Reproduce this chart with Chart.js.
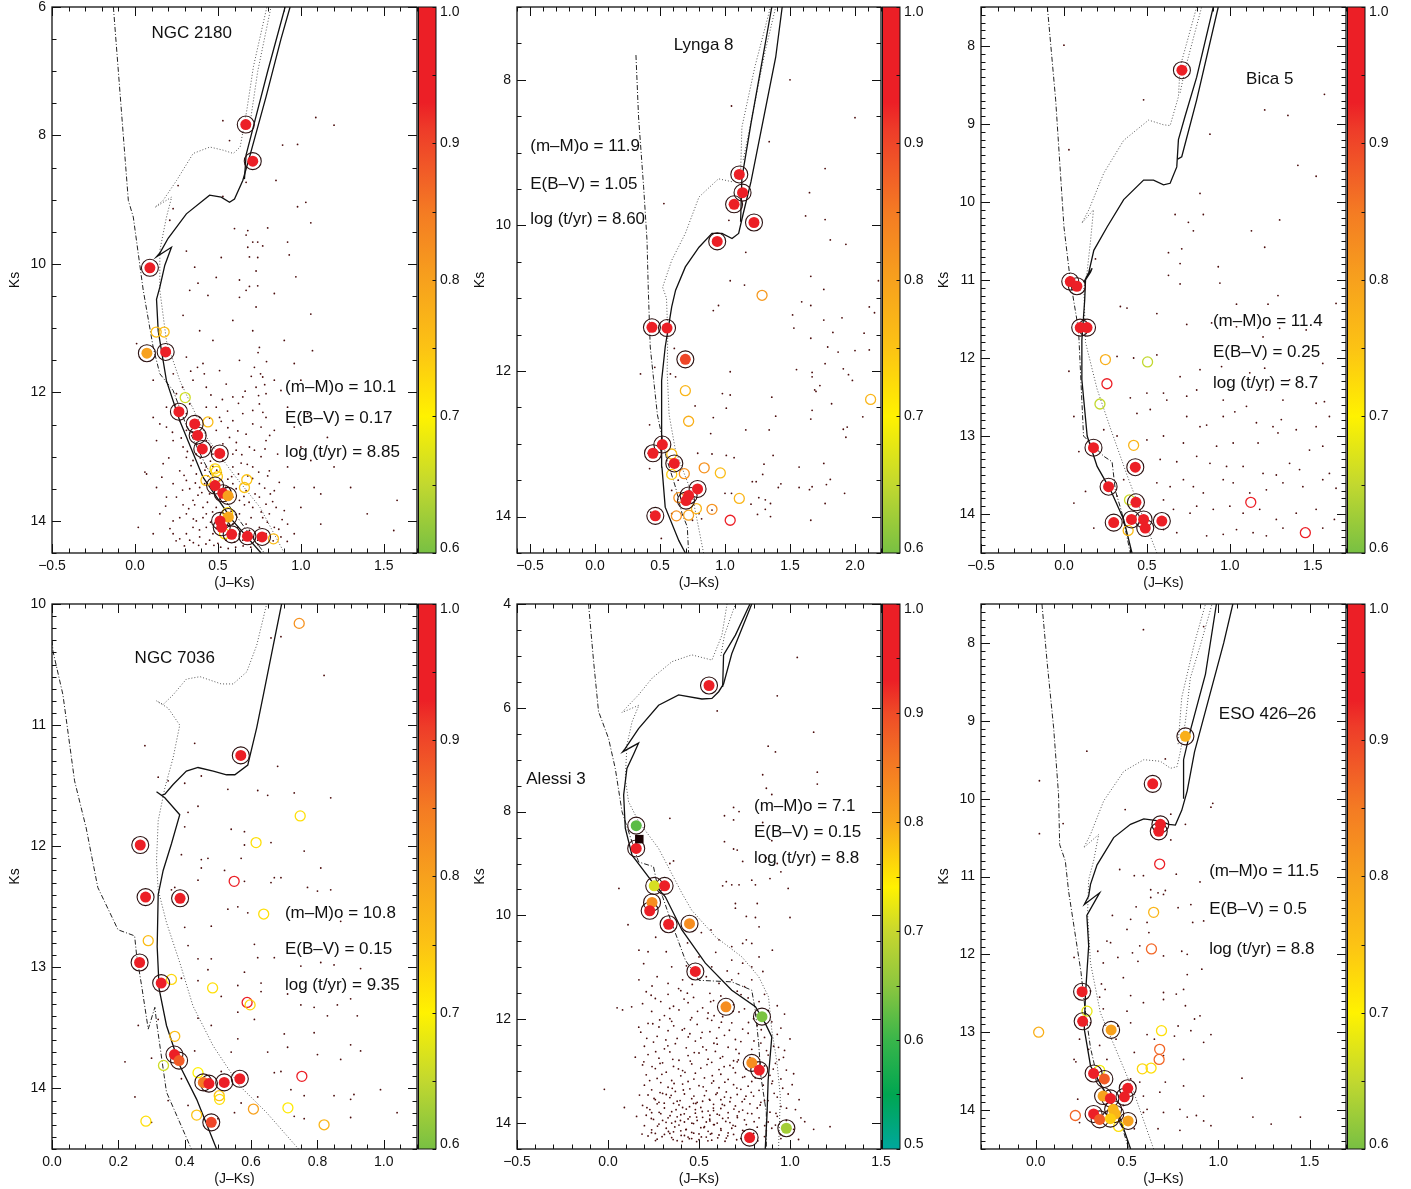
<!DOCTYPE html>
<html>
<head>
<meta charset="utf-8">
<title>Cluster CMDs</title>
<script src="https://cdn.jsdelivr.net/npm/chart.js@4.4.1/dist/chart.umd.min.js"></script>
<style>
  body { margin: 0; background: #fff; width: 1411px; height: 1189px; overflow: hidden; position: relative; }
  canvas { position: absolute; }
</style>
</head>
<body>
<script>
// =============================
// Colour bars (membership probability)
// =============================

const cbStopsA = [[0.60, '#78c043'], [0.65, '#c2d82f'], [0.70, '#fff200'], [0.75, '#fcc314'], [0.80, '#f7a11d'],
  [0.85, '#f47b23'], [0.88, '#f15b27'], [0.91, '#ee3c29'], [0.93, '#ec1f26'], [1.00, '#ec1f26']];
const cbStopsB = [[0.50, '#00a79d'], [0.55, '#00a651'], [0.60, '#39b54a'], [0.65, '#8cc63f'], [0.70, '#c8d72e'],
  [0.74, '#fff200'], [0.80, '#f9a61b'], [0.86, '#f37324'], [0.90, '#ef4b27'], [0.93, '#ec1f26'], [1.00, '#ec1f26']];

// =============================
// NGC 2180
// =============================

const ngc2180Members = [[0.668, 7.83, 1], [0.71, 8.40, 1], [0.09, 10.06, 1], [0.072, 11.39, 0.8], [0.185, 11.37, 1],
  [0.265, 12.30, 1], [0.36, 12.49, 1], [0.378, 12.67, 0.97], [0.406, 12.88, 1], [0.511, 12.95, 1], [0.483, 13.45, 1],
  [0.529, 13.57, 1], [0.561, 13.61, 0.8], [0.563, 13.94, 0.79], [0.513, 14.0, 1], [0.523, 14.1, 1], [0.583, 14.21, 1],
  [0.678, 14.24, 1], [0.766, 14.25, 1]];
const ngc2180Open = [[0.128, 11.06, 0.76], [0.176, 11.06, 0.76], [0.303, 12.08, 0.66], [0.44, 12.46, 0.76],
  [0.483, 13.19, 0.73], [0.49, 13.23, 0.73], [0.497, 13.31, 0.75], [0.428, 13.37, 0.75], [0.674, 13.36, 0.75],
  [0.66, 13.48, 0.75], [0.559, 13.87, 0.72], [0.54, 14.2, 0.72], [0.835, 14.28, 0.76]];
const ngc2180Iso = [[0.76, 14.5], [0.59, 14.0], [0.41, 13.32], [0.27, 12.44], [0.19, 11.82], [0.14, 11.04], [0.13, 10.55],
  [0.15, 10.36], [0.18, 10.02], [0.22, 9.74], [0.13, 9.89], [0.15, 9.83], [0.20, 9.6], [0.31, 9.22], [0.45, 8.93],
  [0.52, 8.96], [0.57, 9.04], [0.60, 8.99], [0.65, 8.70], [0.69, 8.34], [0.79, 7.4], [0.88, 6.5], [0.935, 6.0]];
const ngc2180Iso2 = [[0.66, 8.68], [0.67, 8.3], [0.72, 7.8], [0.80, 7.0], [0.905, 6.0]];
const ngc2180Bin = [[0.90, 14.5], [0.754, 13.79], [0.593, 13.27], [0.432, 12.7], [0.271, 11.82], [0.19, 11.2], [0.15, 10.41],
  [0.15, 9.79], [0.19, 9.27], [0.221, 8.96], [0.12, 9.12], [0.17, 9.01], [0.251, 8.70], [0.351, 8.28], [0.452, 8.18],
  [0.533, 8.23], [0.593, 8.28], [0.634, 8.18], [0.674, 7.61], [0.714, 6.93], [0.795, 6.0]];
const ngc2180Bin2 = [[0.70, 7.7], [0.74, 7.0], [0.82, 6.0]];
const ngc2180Zams = [[-0.13, 6.0], [-0.04, 9.01], [-0.01, 9.27], [0.05, 10.41], [0.11, 11.3], [0.15, 11.71], [0.23, 11.97],
  [0.30, 12.45], [0.42, 13.1], [0.55, 13.7], [0.66, 14.1], [0.78, 14.5]];
const ngc2180Field = [[0.53, 7.77], [0.57, 8.08], [1.09, 7.72], [1.2, 7.84], [0.89, 8.15], [0.98, 8.14], [0.85, 8.7],
  [0.67, 8.73], [0.26, 8.78], [0.53, 8.95], [1.03, 9.04], [0.98, 9.11], [0.23, 9.14], [0.21, 9.32], [0.6, 9.45],
  [0.68, 9.48], [0.8, 9.44], [1.06, 9.36], [0.67, 9.55], [0.71, 9.66], [0.74, 9.66], [0.77, 9.72], [0.68, 9.74],
  [0.92, 9.66], [0.31, 9.8], [0.52, 9.9], [0.74, 9.9], [0.93, 9.86], [0.69, 9.89], [0.36, 10.05], [0.73, 10.11],
  [0.49, 10.21], [0.63, 10.25], [0.97, 10.2], [0.38, 10.3], [0.69, 10.35], [0.74, 10.34], [0.33, 10.41], [0.44, 10.49],
  [0.67, 10.41], [0.63, 10.52], [0.73, 10.67], [0.84, 10.46], [1.06, 10.78], [0.01, 11.24], [1.07, 11.35], [0.29, 10.8],
  [0.39, 11.04], [0.47, 11.19], [0.59, 10.88], [0.71, 11.04], [0.75, 11.3], [0.9, 11.19], [0.31, 11.45], [0.41, 11.55],
  [0.51, 11.66], [0.63, 11.5], [0.72, 11.61], [0.77, 11.76], [0.73, 11.92], [0.79, 12.02], [0.75, 12.18], [0.71, 12.28],
  [0.79, 12.39], [0.76, 12.54], [0.84, 11.81], [0.88, 11.97], [0.35, 11.81], [0.43, 11.92], [0.55, 11.87], [0.59, 12.07],
  [0.49, 12.23], [0.33, 12.18], [0.39, 12.39], [0.11, 12.39], [0.15, 12.49], [0.59, 12.44], [0.67, 12.65], [0.57, 12.7],
  [0.31, 12.59], [0.29, 12.85], [0.43, 12.75], [0.59, 12.96], [0.69, 12.85], [0.79, 12.75], [0.86, 12.96], [1.0, 12.85],
  [0.35, 13.06], [0.43, 13.16], [0.59, 13.16], [0.71, 13.16], [0.81, 13.22], [0.92, 13.16], [0.17, 13.11], [0.07, 13.27],
  [0.31, 13.37], [0.39, 13.48], [0.59, 13.42], [0.75, 13.42], [0.84, 13.53], [0.96, 13.48], [1.12, 13.58], [1.58, 13.68],
  [0.25, 13.63], [0.35, 13.68], [0.41, 13.79], [0.63, 13.68], [0.71, 13.79], [0.79, 13.74], [0.9, 13.84], [1.0, 13.79],
  [1.12, 14.05], [1.56, 14.15], [0.15, 13.89], [0.23, 14.0], [0.31, 13.89], [0.37, 14.0], [0.43, 14.1], [0.47, 14.2],
  [0.39, 14.25], [0.31, 14.2], [0.27, 14.28], [0.59, 14.05], [0.67, 14.05], [0.75, 14.1], [0.84, 14.1], [0.92, 14.05],
  [0.63, 13.89], [0.88, 14.25], [0.96, 14.2], [0.02, 14.1], [0.06, 13.24], [0.13, 12.75], [0.19, 12.54], [0.27, 12.44],
  [0.39, 12.7], [0.49, 12.59], [0.53, 13.06], [0.51, 13.37], [0.45, 13.58], [0.49, 13.79], [0.57, 14.2], [0.71, 14.25],
  [0.79, 14.2], [0.81, 13.89], [0.75, 13.63], [0.67, 13.53], [0.59, 13.63], [0.55, 13.89], [0.37, 13.27], [0.27, 13.22],
  [0.23, 13.42], [0.31, 13.01], [0.23, 12.75], [0.37, 12.96], [0.47, 12.96], [0.65, 12.33], [0.71, 12.49], [0.84, 12.59],
  [0.96, 12.54], [1.04, 12.33], [0.92, 12.23], [1.0, 11.81], [0.96, 11.55], [1.16, 12.7], [1.2, 13.16], [1.3, 13.48],
  [1.4, 13.89], [1.08, 13.48], [1.06, 13.06], [0.13, 13.48], [0.19, 13.63], [0.11, 14.2], [0.23, 14.2], [0.35, 14.1],
  [0.43, 13.89], [0.53, 14.0], [0.63, 14.2], [0.39, 12.85], [0.31, 12.33], [0.25, 12.02], [0.19, 12.23], [0.11, 11.81],
  [0.65, 12.07], [0.51, 12.39], [0.43, 12.23], [0.33, 13.5], [0.36, 13.75], [0.41, 13.95], [0.45, 14.3], [0.5, 14.35],
  [0.55, 14.3], [0.6, 14.33], [0.65, 14.3], [0.4, 13.1], [0.44, 13.3], [0.47, 13.15], [0.52, 13.25], [0.56, 13.35],
  [0.61, 13.5], [0.66, 13.75], [0.7, 13.95], [0.74, 14.3], [0.46, 12.85], [0.53, 12.8], [0.61, 12.9], [0.38, 13.6],
  [0.42, 13.42], [0.29, 13.75], [0.33, 14.3], [0.27, 13.95], [0.58, 13.85], [0.62, 14.1], [0.69, 14.15], [0.77, 13.95],
  [0.83, 13.7], [0.87, 13.4], [0.8, 13.3], [0.76, 13.0], [0.72, 12.9], [0.68, 13.3], [0.64, 13.1], [0.56, 12.55],
  [0.62, 12.6], [0.52, 12.45], [0.45, 12.4], [0.345, 12.62], [0.372, 12.81], [0.418, 12.93], [0.455, 13.07],
  [0.493, 13.21], [0.338, 13.14], [0.296, 13.29], [0.364, 13.41], [0.403, 13.56], [0.437, 13.71], [0.468, 13.86],
  [0.512, 13.66], [0.547, 13.48], [0.583, 13.31], [0.624, 13.27], [0.657, 13.62], [0.688, 13.71], [0.724, 13.58],
  [0.761, 13.86], [0.798, 14.02], [0.833, 14.31], [0.867, 14.13], [0.742, 14.37], [0.698, 14.41], [0.652, 14.39],
  [0.607, 14.41], [0.562, 14.43], [0.517, 14.41], [0.476, 14.38], [0.428, 14.36], [0.384, 14.38], [0.352, 14.34],
  [0.298, 14.39], [0.248, 14.31], [0.211, 14.12], [0.185, 13.77], [0.162, 13.32], [0.204, 13.02], [0.226, 12.62],
  [0.279, 12.71], [0.316, 12.92], [0.287, 13.52], [0.324, 13.81], [0.352, 13.97], [0.389, 14.14], [0.456, 14.02],
  [0.491, 14.12], [0.452, 13.42], [0.422, 13.21], [0.394, 13.02], [0.611, 12.78], [0.644, 12.97], [0.677, 13.12],
  [0.709, 13.34], [0.746, 13.24], [0.782, 13.49], [0.816, 13.58], [0.851, 13.79], [0.887, 13.98], [0.918, 14.32],
  [0.784, 12.88], [0.812, 12.67], [0.771, 12.31], [0.745, 12.05], [0.782, 11.88], [0.757, 11.71], [0.793, 11.52],
  [0.742, 11.38], [0.701, 11.75], [0.664, 11.98], [0.624, 12.17], [0.558, 12.29], [0.527, 12.11], [0.458, 12.04],
  [0.418, 11.71], [0.377, 11.61], [0.336, 11.67], [0.287, 11.92], [0.244, 12.19], [0.231, 11.71]];

// =============================
// Lynga 8
// =============================

const lynga8Members = [[1.11, 9.30, 1], [1.135, 9.55, 1], [1.07, 9.71, 1], [1.223, 9.96, 1], [0.94, 10.22, 1],
  [0.438, 11.40, 1], [0.554, 11.41, 0.94], [0.695, 11.84, 0.9], [0.518, 13.01, 1], [0.446, 13.13, 1], [0.61, 13.27, 0.95],
  [0.789, 13.62, 1], [0.72, 13.71, 1], [0.70, 13.78, 0.96], [0.464, 13.99, 1]];
const lynga8Open = [[1.285, 10.96, 0.81], [0.695, 12.27, 0.77], [0.72, 12.69, 0.78], [2.12, 12.39, 0.77], [0.59, 13.14, 0.76],
  [0.84, 13.33, 0.82], [0.964, 13.40, 0.76], [0.687, 13.41, 0.82], [0.59, 13.42, 0.74], [1.11, 13.75, 0.77],
  [0.645, 13.74, 0.82], [0.78, 13.89, 0.77], [0.90, 13.90, 0.82], [0.626, 13.99, 0.82], [0.72, 13.98, 0.8], [1.04, 14.05, 0.93]];
const lynga8Iso = [[0.695, 14.5], [0.645, 14.33], [0.54, 13.87], [0.515, 13.32], [0.51, 12.59], [0.515, 12.13], [0.54, 11.67],
  [0.59, 11.12], [0.62, 10.89], [0.695, 10.57], [0.80, 10.30], [0.90, 10.11], [0.977, 10.11], [1.054, 10.18], [1.105, 10.11],
  [1.14, 9.84], [1.20, 9.4], [1.30, 8.5], [1.39, 7.69], [1.44, 7.0]];
const lynga8Iso2 = [[1.12, 9.95], [1.13, 9.35], [1.20, 8.6], [1.30, 7.6], [1.36, 7.0]];
const lynga8Bin = [[0.835, 14.5], [0.745, 13.68], [0.62, 13.1], [0.57, 12.6], [0.555, 12.0], [0.56, 11.5], [0.55, 11.0],
  [0.52, 10.85], [0.59, 10.48], [0.695, 10.11], [0.80, 9.61], [0.95, 9.36], [1.054, 9.40], [1.12, 9.29], [1.13, 8.65],
  [1.23, 7.82], [1.35, 7.0]];
const lynga8Bin2 = [[1.14, 9.1], [1.22, 8.4], [1.31, 7.6], [1.39, 7.0]];
const lynga8Zams = [[0.315, 7.66], [0.335, 8.51], [0.374, 9.47], [0.40, 10.2], [0.41, 10.89], [0.425, 11.67], [0.45, 12.1],
  [0.48, 12.6], [0.55, 13.2], [0.62, 13.6], [0.67, 13.96], [0.71, 14.14], [0.72, 14.5]];
const lynga8Field = [[1.50, 8.0], [1.05, 8.36], [2.0, 8.52], [1.34, 8.85], [1.77, 9.22], [1.65, 9.55], [0.53, 9.70], [1.62, 9.87],
  [1.77, 9.92], [1.03, 9.93], [1.81, 10.20], [1.93, 10.26], [1.16, 10.37], [1.66, 10.70], [1.04, 10.76], [1.15, 10.82],
  [1.76, 10.88], [2.18, 10.76], [1.59, 11.05], [1.66, 11.1], [2.11, 11.12], [2.15, 11.2], [0.91, 11.17], [0.95, 11.1],
  [1.52, 11.23], [1.90, 11.27], [1.76, 11.30], [1.53, 11.41], [1.83, 11.47], [2.07, 11.48], [1.66, 11.55], [1.79, 11.67],
  [1.87, 11.74], [2.00, 11.72], [2.11, 11.71], [0.61, 11.69], [1.77, 11.9], [1.55, 11.98], [1.91, 11.97], [1.04, 12.01],
  [1.67, 12.02], [1.67, 12.08], [1.95, 12.05], [0.35, 12.04], [0.46, 11.95], [0.58, 12.04], [0.62, 12.08], [1.73, 12.2],
  [1.70, 12.28], [0.98, 12.31], [1.04, 12.33], [0.77, 12.48], [1.01, 12.51], [1.67, 12.54], [2.06, 12.63], [1.39, 12.62],
  [0.91, 12.64], [1.66, 12.66], [0.42, 12.74], [1.16, 12.81], [1.34, 12.81], [1.94, 12.77], [1.91, 12.80], [0.89, 12.86],
  [0.90, 13.14], [1.01, 13.16], [1.07, 13.19], [1.37, 13.16], [1.30, 13.28], [1.76, 13.27], [1.29, 13.42], [1.21, 13.52],
  [1.24, 13.52], [1.43, 13.55], [1.57, 13.6], [1.65, 13.63], [1.81, 13.49], [1.78, 13.56], [1.92, 13.68], [1.41, 13.60],
  [1.0, 13.68], [1.05, 13.68], [1.20, 13.83], [1.31, 13.77], [1.26, 13.74], [1.35, 13.82], [1.77, 13.82], [1.31, 13.90],
  [1.25, 13.97], [1.35, 14.0], [1.66, 14.05], [0.43, 13.94], [0.41, 13.13], [0.42, 13.34], [0.59, 13.64], [0.79, 13.13],
  [0.51, 14.3], [0.64, 13.5], [0.80, 13.96], [0.90, 13.91], [0.59, 13.96], [0.75, 14.05], [0.82, 14.03], [1.36, 12.36],
  [1.57, 13.32], [1.67, 13.59], [1.93, 12.91], [1.69, 12.26], [1.82, 12.45], [1.98, 12.13]];

// =============================
// Bica 5
// =============================

const bica5Members = [[0.711, 8.31, 1], [0.038, 11.02, 1], [0.078, 11.08, 1], [0.098, 11.61, 1], [0.139, 11.61, 1],
  [0.178, 13.15, 1], [0.43, 13.40, 1], [0.269, 13.65, 1], [0.434, 13.85, 1], [0.30, 14.11, 1], [0.407, 14.07, 1],
  [0.48, 14.07, 1], [0.49, 14.18, 1], [0.59, 14.09, 1]];
const bica5Open = [[0.25, 12.02, 0.78], [0.504, 12.05, 0.65], [0.259, 12.33, 0.95], [0.217, 12.59, 0.65], [0.42, 13.12, 0.77],
  [0.395, 13.82, 0.66], [0.387, 14.21, 0.76], [1.126, 13.85, 0.95], [1.455, 14.24, 0.95]];
const bica5Iso = [[0.41, 14.5], [0.36, 14.07], [0.28, 13.69], [0.20, 13.39], [0.14, 13.0], [0.108, 12.28], [0.108, 11.77],
  [0.125, 11.26], [0.13, 11.0], [0.16, 10.9], [0.17, 10.85], [0.12, 11.03], [0.15, 10.9], [0.18, 10.62], [0.26, 10.32],
  [0.36, 9.97], [0.48, 9.72], [0.54, 9.72], [0.60, 9.78], [0.64, 9.76], [0.68, 9.55], [0.69, 9.2], [0.73, 8.9], [0.80, 8.40],
  [0.90, 7.5]];
const bica5Iso2 = [[0.685, 9.45], [0.71, 9.42], [0.80, 8.69], [0.93, 7.5]];
const bica5Bin = [[0.56, 14.5], [0.46, 13.95], [0.38, 13.5], [0.28, 12.9], [0.20, 12.4], [0.13, 11.8], [0.12, 11.1],
  [0.139, 10.91], [0.16, 10.5], [0.178, 10.10], [0.108, 10.27], [0.15, 10.1], [0.24, 9.63], [0.36, 9.21], [0.51, 8.95],
  [0.60, 9.01], [0.64, 9.02], [0.69, 8.65], [0.70, 8.27], [0.80, 7.5]];
const bica5Bin2 = [[0.70, 8.6], [0.73, 8.3], [0.83, 7.5]];
const bica5Zams = [[-0.10, 7.5], [-0.05, 8.69], [0.0, 10.32], [0.038, 11.0], [0.088, 11.64], [0.098, 12.1], [0.118, 13.0],
  [0.24, 13.26], [0.29, 13.33], [0.31, 13.7], [0.35, 13.99], [0.40, 14.5]];
const bica5Field = [[0.0, 7.99], [0.48, 8.69], [1.21, 8.82], [1.35, 8.89], [1.57, 8.62], [0.88, 9.13], [0.03, 9.33], [1.41, 9.53],
  [1.52, 9.67], [0.82, 9.89], [0.84, 10.16], [0.67, 10.16], [0.75, 10.26], [1.30, 10.23], [0.78, 10.37], [1.13, 10.37],
  [1.21, 10.58], [0.71, 10.60], [0.63, 10.65], [0.19, 10.73], [0.70, 10.79], [0.93, 10.83], [0.63, 10.94], [0.70, 11.05],
  [0.94, 11.04], [1.29, 11.2], [1.23, 11.31], [1.04, 11.31], [1.64, 11.3], [0.34, 11.34], [0.38, 11.36], [0.56, 11.43],
  [0.74, 11.57], [0.89, 11.55], [1.04, 11.6], [1.30, 11.62], [1.46, 11.64], [1.20, 11.73], [0.32, 11.98], [0.42, 12.0],
  [0.56, 11.96], [0.82, 12.15], [0.70, 12.24], [0.95, 12.11], [1.12, 12.19], [1.21, 12.13], [1.36, 12.28], [1.56, 12.07],
  [0.03, 12.17], [0.40, 12.51], [0.50, 12.45], [0.60, 12.45], [0.62, 12.54], [0.74, 12.49], [0.80, 12.41], [0.96, 12.54],
  [1.10, 12.62], [1.22, 12.41], [1.32, 12.54], [1.52, 12.58], [1.57, 12.56], [0.06, 12.75], [0.44, 12.71], [0.52, 12.66],
  [0.74, 12.75], [0.82, 12.88], [0.86, 12.86], [0.96, 12.75], [1.03, 12.69], [1.16, 12.83], [1.26, 12.88], [1.31, 12.79],
  [1.40, 12.92], [1.52, 12.88], [1.60, 12.75], [0.09, 13.2], [0.32, 13.0], [0.50, 13.05], [0.60, 13.0], [0.72, 13.09],
  [0.92, 13.13], [1.02, 13.09], [1.17, 13.09], [1.29, 12.96], [1.36, 13.35], [1.48, 13.18], [1.56, 13.13], [0.58, 13.3],
  [0.68, 13.33], [0.80, 13.26], [0.88, 13.35], [0.98, 13.39], [1.08, 13.39], [1.20, 13.48], [1.28, 13.5], [1.42, 13.43],
  [1.60, 13.48], [0.13, 13.71], [0.56, 13.6], [0.64, 13.65], [0.72, 13.56], [0.78, 13.65], [0.84, 13.73], [0.96, 13.56],
  [1.02, 13.6], [1.12, 13.73], [1.22, 13.69], [1.32, 13.6], [1.44, 13.65], [1.56, 13.56], [1.64, 13.67], [0.06, 13.86],
  [0.60, 13.82], [0.66, 13.94], [0.76, 13.99], [0.80, 13.9], [0.90, 13.94], [1.0, 13.9], [1.08, 13.99], [1.18, 13.94],
  [1.28, 14.07], [1.40, 13.99], [1.52, 13.94], [1.63, 14.07], [0.18, 14.18], [0.60, 14.2], [0.68, 14.24], [0.86, 14.28],
  [0.96, 14.26], [1.04, 14.2], [1.14, 14.24], [1.22, 14.28], [1.32, 14.18], [1.56, 14.18], [0.32, 13.77], [0.36, 13.56],
  [0.24, 12.92]];

// =============================
// NGC 7036
// =============================

const ngc7036Members = [[0.569, 11.25, 1], [0.266, 11.99, 1], [0.282, 12.42, 1], [0.386, 12.43, 1], [0.264, 12.96, 1],
  [0.329, 13.13, 1], [0.369, 13.72, 1], [0.383, 13.77, 0.88], [0.456, 13.95, 0.85], [0.473, 13.96, 1], [0.519, 13.95, 1],
  [0.566, 13.92, 1], [0.48, 14.28, 0.9]];
const ngc7036Open = [[0.745, 10.16, 0.82], [0.748, 11.75, 0.72], [0.615, 11.97, 0.72], [0.549, 12.29, 0.95], [0.638, 12.56, 0.72],
  [0.29, 12.78, 0.76], [0.36, 13.10, 0.73], [0.484, 13.17, 0.72], [0.588, 13.29, 0.95], [0.597, 13.31, 0.73], [0.37, 13.57, 0.76],
  [0.336, 13.81, 0.66], [0.44, 13.87, 0.70], [0.753, 13.90, 0.95], [0.504, 14.06, 0.75], [0.505, 14.09, 0.72],
  [0.607, 14.17, 0.8], [0.711, 14.16, 0.71], [0.436, 14.22, 0.75], [0.283, 14.27, 0.72], [0.82, 14.30, 0.77]];
const ngc7036Iso = [[0.496, 14.5], [0.436, 14.09], [0.385, 13.81], [0.345, 13.48], [0.323, 13.18], [0.317, 12.83], [0.32, 12.4],
  [0.335, 12.2], [0.36, 11.98], [0.385, 11.74], [0.34, 11.6], [0.315, 11.55], [0.33, 11.58], [0.34, 11.57], [0.365, 11.49],
  [0.405, 11.38], [0.44, 11.35], [0.486, 11.38], [0.526, 11.41], [0.551, 11.41], [0.59, 11.33], [0.617, 11.02],
  [0.637, 10.75], [0.667, 10.34], [0.692, 10.0]];
const ngc7036Bin = [[0.743, 14.5], [0.647, 14.2], [0.566, 13.98], [0.486, 13.65], [0.425, 13.32], [0.385, 12.96], [0.345, 12.63],
  [0.32, 12.36], [0.315, 12.12], [0.32, 11.79], [0.34, 11.52], [0.365, 11.27], [0.385, 11.0], [0.35, 10.86], [0.315, 10.8],
  [0.335, 10.83], [0.365, 10.75], [0.405, 10.62], [0.446, 10.6], [0.51, 10.66], [0.546, 10.66], [0.587, 10.56],
  [0.617, 10.34], [0.647, 10.0]];
const ngc7036Zams = [[0.0, 10.3], [0.003, 10.39], [0.033, 10.75], [0.068, 11.46], [0.103, 11.85], [0.138, 12.34], [0.199, 12.69],
  [0.249, 12.74], [0.255, 12.9], [0.27, 13.15], [0.29, 13.51], [0.31, 13.33], [0.315, 13.45], [0.345, 14.03], [0.42, 14.5]];
const ngc7036Field = [[0.66, 10.28], [0.69, 10.27], [0.82, 10.59], [0.28, 11.17], [0.43, 11.15], [0.68, 11.34], [0.45, 11.42],
  [0.32, 11.43], [0.35, 11.46], [0.40, 11.48], [0.53, 11.53], [0.62, 11.54], [0.65, 11.58], [0.73, 11.56], [0.84, 11.60],
  [0.44, 11.67], [0.41, 11.72], [0.40, 11.84], [0.54, 11.86], [0.58, 11.88], [0.58, 11.99], [0.66, 11.97], [0.76, 12.04],
  [0.39, 12.07], [0.47, 12.10], [0.45, 12.11], [0.57, 12.10], [0.81, 12.18], [0.45, 12.18], [0.52, 12.2], [0.67, 12.26],
  [0.69, 12.26], [0.44, 12.28], [0.58, 12.29], [0.66, 12.3], [0.77, 12.34], [0.80, 12.37], [0.84, 12.36], [0.36, 12.36],
  [0.37, 12.34], [0.53, 12.52], [0.56, 12.50], [0.59, 12.55], [0.40, 12.67], [0.48, 12.66], [0.87, 12.62], [0.61, 12.81],
  [0.41, 12.82], [0.44, 12.93], [0.48, 12.93], [0.62, 12.92], [0.67, 12.92], [0.75, 12.99], [0.81, 12.96], [0.85, 12.98],
  [0.93, 13.01], [0.58, 13.04], [0.47, 13.02], [0.39, 13.09], [0.44, 13.11], [0.63, 13.13], [0.56, 13.15], [0.63, 13.20],
  [0.51, 13.24], [0.71, 13.22], [0.75, 13.31], [0.79, 13.33], [0.86, 13.31], [0.90, 13.26], [0.56, 13.37], [0.83, 13.4],
  [0.92, 13.4], [0.26, 13.48], [0.32, 13.43], [0.44, 13.42], [0.48, 13.48], [0.61, 13.43], [0.70, 13.55], [0.79, 13.54],
  [0.71, 13.66], [0.90, 13.64], [0.93, 13.69], [0.22, 13.78], [0.30, 13.75], [0.43, 13.69], [0.54, 13.70], [0.56, 13.59],
  [0.65, 13.70], [0.80, 13.72], [0.87, 13.76], [0.67, 13.87], [0.69, 13.86], [0.51, 13.86], [0.39, 13.92], [0.72, 14.01],
  [0.91, 14.05], [0.99, 14.01], [0.25, 14.07], [0.35, 14.10], [0.41, 14.14], [0.57, 14.12], [0.62, 14.07], [0.76, 14.06],
  [0.85, 14.06], [0.90, 14.09], [0.50, 14.25], [0.55, 14.2], [0.73, 14.23], [0.76, 14.25], [0.90, 14.24], [1.04, 14.20],
  [0.30, 14.28]];

// =============================
// Alessi 3
// =============================

const alessi3Members = [[0.555, 5.57, 1], [0.155, 8.27, 0.62], [0.155, 8.71, 1], [0.254, 9.43, 0.71], [0.311, 9.43, 1],
  [0.242, 9.75, 0.83], [0.229, 9.91, 1], [0.333, 10.17, 1], [0.448, 10.16, 0.83], [0.48, 11.08, 1], [0.648, 11.76, 0.83],
  [0.846, 11.95, 0.64], [0.79, 12.84, 0.83], [0.831, 12.98, 1], [0.98, 14.10, 0.67], [0.778, 14.28, 1]];
const alessi3Square = [[0.172, 8.53]];
const alessi3Iso = [[0.864, 14.5], [0.874, 13.81], [0.88, 13.17], [0.90, 12.34], [0.864, 12.08], [0.81, 11.76], [0.68, 11.44],
  [0.535, 10.92], [0.406, 10.28], [0.315, 9.64], [0.242, 9.35], [0.132, 8.84], [0.095, 8.32], [0.086, 7.68], [0.104, 7.17],
  [0.14, 6.9], [0.168, 6.68], [0.08, 6.85], [0.095, 6.78], [0.168, 6.40], [0.278, 5.95], [0.388, 5.75], [0.516, 5.83],
  [0.571, 5.82], [0.608, 5.69], [0.635, 5.54], [0.68, 4.96], [0.79, 4.0]];
const alessi3Iso2 = [[0.63, 5.6], [0.635, 4.98], [0.70, 4.6], [0.78, 4.0]];
const alessi3Bin = [[0.937, 14.5], [0.947, 13.49], [0.929, 12.85], [0.90, 12.21], [0.882, 11.57], [0.828, 11.18], [0.736, 10.8],
  [0.59, 10.41], [0.46, 9.9], [0.406, 9.57], [0.278, 8.71], [0.168, 8.19], [0.113, 7.81], [0.095, 7.36], [0.104, 6.72],
  [0.132, 6.27], [0.17, 5.95], [0.077, 6.09], [0.10, 6.0], [0.168, 5.75], [0.242, 5.43], [0.352, 5.11], [0.46, 4.98],
  [0.571, 5.08], [0.626, 4.60], [0.654, 4.0]];
const alessi3Bin2 = [[0.62, 5.0], [0.64, 4.6], [0.70, 4.0]];
const alessi3Zams = [[-0.107, 4.0], [-0.079, 5.11], [-0.052, 6.07], [0.003, 6.59], [0.04, 7.17], [0.077, 8.0], [0.168, 8.97],
  [0.25, 9.06], [0.27, 9.4], [0.30, 9.64], [0.35, 10.15], [0.425, 10.86], [0.50, 11.25], [0.68, 11.28], [0.79, 11.44],
  [0.81, 11.85], [0.828, 12.47], [0.84, 13.1], [0.87, 13.8], [0.87, 14.5]];
const alessi3Field = [[1.04, 5.03], [0.93, 5.77], [0.60, 6.06], [1.13, 6.47], [0.88, 6.74], [0.92, 6.85], [1.15, 7.24],
  [0.85, 7.29], [1.15, 7.47], [0.87, 7.55], [0.90, 7.67], [0.69, 7.92], [0.64, 8.08], [0.72, 8.0], [0.69, 8.16], [0.34, 8.13],
  [0.85, 8.21], [0.64, 8.58], [0.90, 8.56], [0.69, 8.72], [0.71, 8.74], [0.74, 8.96], [0.87, 8.89], [0.86, 8.96], [0.93, 9.0],
  [0.95, 9.16], [0.36, 8.95], [0.34, 9.0], [0.79, 9.32], [0.65, 9.35], [0.68, 9.41], [0.72, 9.41], [0.63, 9.43], [0.89, 9.29],
  [0.99, 9.48], [0.06, 9.48], [0.81, 9.41], [0.70, 9.77], [0.70, 9.86], [0.82, 9.77], [0.11, 10.18], [0.76, 10.02],
  [0.81, 10.04], [0.83, 10.22], [1.0, 10.04], [0.76, 10.47], [0.68, 10.6], [0.61, 10.47], [0.74, 10.54], [0.79, 10.54],
  [0.17, 10.67], [0.22, 10.70], [0.32, 10.70], [0.35, 10.99], [0.50, 10.8], [0.57, 10.99], [0.68, 10.86], [0.74, 10.92],
  [0.79, 10.99], [0.83, 10.8], [0.17, 11.24], [0.27, 11.18], [0.33, 11.31], [0.41, 11.24], [0.54, 11.18], [0.61, 11.31],
  [0.68, 11.24], [0.75, 11.37], [0.79, 11.24], [0.08, 11.82], [0.13, 11.76],
  [0.21, 11.47], [0.33, 11.52], [0.40, 11.45], [0.47, 11.58], [0.56, 11.5], [0.62, 11.55], [0.71, 11.46], [0.77, 11.59],
  [0.86, 11.52], [0.26, 11.6], [0.19, 11.7], [0.29, 11.66], [0.36, 11.75], [0.44, 11.68], [0.52, 11.78], [0.58, 11.64],
  [0.69, 11.72], [0.75, 11.8], [0.83, 11.66], [0.93, 11.74], [0.05, 11.78], [0.24, 11.85], [0.31, 11.93], [0.39, 11.82],
  [0.46, 11.97], [0.55, 11.88], [0.63, 11.95], [0.72, 11.86], [0.80, 11.99], [0.88, 11.83], [0.97, 11.9], [0.34, 11.99],
  [0.22, 12.08], [0.28, 12.15], [0.35, 12.04], [0.42, 12.18], [0.49, 12.1], [0.57, 12.02], [0.61, 12.16], [0.68, 12.07],
  [0.74, 12.19], [0.82, 12.12], [0.90, 12.05], [0.95, 12.17], [0.18, 12.25], [0.27, 12.33], [0.33, 12.22], [0.38, 12.37],
  [0.45, 12.28], [0.51, 12.36], [0.56, 12.24], [0.64, 12.31], [0.70, 12.39], [0.77, 12.27], [0.86, 12.35], [0.93, 12.29],
  [1.0, 12.38], [0.20, 12.52], [0.25, 12.44], [0.31, 12.57], [0.37, 12.47], [0.43, 12.55], [0.48, 12.42], [0.54, 12.59],
  [0.60, 12.48], [0.66, 12.54], [0.73, 12.43], [0.79, 12.58], [0.84, 12.46], [0.91, 12.52], [0.97, 12.6], [0.22, 12.68],
  [0.28, 12.75], [0.34, 12.63], [0.39, 12.79], [0.44, 12.7], [0.50, 12.65], [0.55, 12.77], [0.59, 12.62], [0.63, 12.72],
  [0.69, 12.8], [0.72, 12.66], [0.78, 12.74], [0.88, 12.69], [0.94, 12.78], [0.15, 12.73], [0.19, 12.88], [0.26, 12.95],
  [0.30, 12.84], [0.36, 12.91], [0.41, 12.99], [0.46, 12.86], [0.51, 12.94], [0.57, 12.83], [0.61, 12.97], [0.67, 12.89],
  [0.71, 12.82], [0.76, 12.96], [0.86, 12.9], [0.92, 12.85], [0.98, 12.98], [0.21, 13.07], [0.27, 13.14], [0.32, 13.02],
  [0.35, 13.18], [0.40, 13.09], [0.44, 13.2], [0.48, 13.04], [0.53, 13.13], [0.58, 13.19], [0.62, 13.06], [0.66, 13.16],
  [0.70, 13.03], [0.74, 13.12], [0.79, 13.2], [0.89, 13.08], [0.95, 13.15], [1.02, 13.05], [0.20, 13.27], [0.24, 13.36],
  [0.29, 13.22], [0.33, 13.31], [0.37, 13.39], [0.41, 13.25], [0.45, 13.34], [0.50, 13.28], [0.54, 13.38], [0.57, 13.23],
  [0.61, 13.32], [0.65, 13.4], [0.69, 13.26], [0.73, 13.35], [0.77, 13.29], [0.83, 13.37], [0.90, 13.24], [0.96, 13.33],
  [-0.02, 13.35], [0.22, 13.46], [0.26, 13.55], [0.30, 13.43], [0.34, 13.51], [0.38, 13.58], [0.42, 13.44], [0.46, 13.53],
  [0.49, 13.6], [0.53, 13.47], [0.56, 13.56], [0.60, 13.42], [0.64, 13.5], [0.67, 13.59], [0.71, 13.45], [0.75, 13.54],
  [0.80, 13.48], [0.86, 13.57], [0.93, 13.5], [0.99, 13.44], [1.05, 13.55], [0.19, 13.66], [0.23, 13.74], [0.27, 13.63],
  [0.31, 13.71], [0.35, 13.78], [0.39, 13.65], [0.43, 13.73], [0.47, 13.62], [0.51, 13.7], [0.55, 13.77], [0.58, 13.64],
  [0.62, 13.72], [0.66, 13.8], [0.70, 13.67], [0.74, 13.75], [0.78, 13.63], [0.82, 13.71], [0.89, 13.79], [0.95, 13.68],
  [1.03, 13.74], [0.09, 13.7], [0.21, 13.85], [0.25, 13.93], [0.29, 13.82], [0.33, 13.9], [0.37, 13.97], [0.40, 13.84],
  [0.44, 13.92], [0.48, 13.81], [0.52, 13.89], [0.56, 13.96], [0.60, 13.83], [0.63, 13.91], [0.67, 13.99], [0.71, 13.86],
  [0.75, 13.94], [0.79, 13.82], [0.83, 13.9], [0.88, 13.98], [0.93, 13.87], [0.98, 13.95], [1.06, 13.9], [0.20, 14.05],
  [0.24, 14.13], [0.28, 14.02], [0.32, 14.1], [0.36, 14.17], [0.39, 14.04], [0.43, 14.12], [0.47, 14.01], [0.51, 14.09],
  [0.55, 14.16], [0.58, 14.03], [0.62, 14.11], [0.66, 14.19], [0.70, 14.06], [0.74, 14.14], [0.82, 14.08], [0.87, 14.15],
  [0.92, 14.04], [1.02, 14.12], [1.22, 14.07], [1.13, 14.12], [0.22, 14.25], [0.27, 14.31], [0.31, 14.22], [0.35, 14.28],
  [0.38, 14.34], [0.42, 14.24], [0.46, 14.3], [0.50, 14.21], [0.54, 14.27], [0.57, 14.33], [0.61, 14.23], [0.65, 14.29],
  [0.69, 14.22], [0.73, 14.3], [0.86, 14.26], [0.95, 14.3], [0.32, 13.45], [0.36, 13.62], [0.41, 13.7], [0.45, 13.88],
  [0.49, 13.95], [0.53, 14.07], [0.57, 14.2], [0.35, 14.0], [0.40, 14.15], [0.44, 14.27], [0.48, 13.74], [0.52, 13.58],
  [0.56, 13.85], [0.60, 14.0], [0.64, 13.66], [0.38, 13.88], [0.42, 13.98], [0.46, 14.18], [0.50, 14.32], [0.54, 13.98],
  [0.58, 13.76], [0.62, 13.55], [0.66, 13.9], [0.34, 14.2], [0.30, 13.95], [0.28, 13.6], [0.26, 14.2], [0.24, 13.8],
  [0.68, 14.1], [0.72, 13.78], [0.76, 14.03], [0.80, 14.2], [0.84, 13.6], [0.90, 14.1],
  [0.262, 10.42], [0.437, 10.53], [0.513, 10.33], [0.592, 10.71], [0.655, 11.07], [0.717, 11.12], [0.388, 11.41],
  [0.463, 11.33], [0.242, 11.36], [0.851, 11.08], [0.903, 10.67], [0.566, 10.28], [0.196, 10.93], [0.431, 10.97],
  [0.237, 11.538], [0.418, 11.612], [0.653, 11.703], [0.731, 11.524], [0.492, 11.847], [0.284, 12.013], [0.583, 11.931],
  [0.772, 12.063], [0.361, 12.127], [0.517, 12.253], [0.667, 12.212], [0.213, 12.367], [0.441, 12.341], [0.802, 12.417],
  [0.582, 12.463], [0.329, 12.512], [0.703, 12.582], [0.871, 12.604], [0.262, 12.624], [0.474, 12.643], [0.617, 12.751],
  [0.356, 12.772], [0.817, 12.823], [0.544, 12.874], [0.242, 12.912], [0.688, 12.938], [0.423, 13.023], [0.908, 12.961],
  [0.296, 13.061], [0.573, 13.087], [0.751, 13.104], [0.472, 13.153], [0.363, 13.238], [0.642, 13.212], [0.229, 13.182],
  [0.853, 13.271], [0.523, 13.302], [0.708, 13.327], [0.414, 13.363], [0.286, 13.412], [0.593, 13.448], [0.787, 13.409],
  [0.347, 13.466], [0.472, 13.481], [0.674, 13.512], [0.913, 13.427], [0.253, 13.527], [0.557, 13.542], [0.396, 13.567],
  [0.737, 13.589], [0.483, 13.623], [0.309, 13.617], [0.628, 13.641], [0.836, 13.652], [0.214, 13.703], [0.448, 13.684],
  [0.579, 13.712], [0.374, 13.743], [0.692, 13.731], [0.518, 13.778], [0.281, 13.793], [0.767, 13.812], [0.419, 13.823],
  [0.612, 13.847], [0.341, 13.857], [0.923, 13.812], [0.487, 13.884], [0.711, 13.893], [0.238, 13.912], [0.559, 13.927],
  [0.398, 13.951], [0.647, 13.968], [0.319, 13.987], [0.803, 13.974], [0.461, 14.003], [0.584, 14.031], [0.272, 14.058],
  [0.687, 14.043], [0.367, 14.074], [0.527, 14.088], [0.428, 14.127], [0.621, 14.141], [0.748, 14.157], [0.332, 14.163],
  [0.471, 14.196], [0.563, 14.213], [0.239, 14.186], [0.402, 14.238], [0.658, 14.247], [0.297, 14.262], [0.513, 14.268],
  [0.603, 14.284], [0.447, 14.301], [0.358, 14.318], [0.707, 14.322], [0.549, 14.342], [0.261, 14.338], [0.643, 14.351],
  [0.487, 14.357], [0.408, 14.355], [0.767, 14.301], [0.823, 14.342], [0.173, 13.461], [0.157, 13.873], [0.187, 14.213],
  [0.947, 14.221], [0.981, 13.713], [1.012, 13.261], [0.964, 12.734], [1.047, 14.317], [0.197, 12.821], [0.169, 12.152],
  [1.081, 13.974], [0.353, 13.331], [0.387, 12.958], [0.452, 12.806], [0.521, 12.534], [0.597, 12.364], [0.638, 12.913],
  [0.716, 12.784], [0.758, 13.482], [0.809, 13.127], [0.842, 12.203], [0.879, 13.567], [0.861, 14.051], [0.904, 13.192],
  [0.937, 12.542], [0.286, 12.852], [0.318, 12.398], [0.246, 12.087], [0.408, 12.207], [0.453, 12.012], [0.547, 11.984],
  [0.623, 12.057], [0.687, 11.847], [0.811, 11.914], [0.339, 11.791], [0.564, 11.662], [0.436, 11.498]];

// =============================
// ESO 426-26
// =============================

const eso426Members = [[0.82, 9.20, 0.78], [0.641, 9.81, 1], [0.683, 10.33, 1], [0.674, 10.42, 1], [0.254, 12.48, 1],
  [0.257, 12.86, 1], [0.413, 12.97, 0.8], [0.317, 13.53, 1], [0.376, 13.60, 0.88], [0.504, 13.72, 1], [0.369, 13.82, 0.8],
  [0.409, 13.85, 1], [0.486, 13.83, 1], [0.317, 14.05, 1], [0.35, 14.12, 0.88], [0.424, 13.99, 0.77], [0.436, 14.05, 0.77],
  [0.409, 14.11, 0.74], [0.506, 14.14, 0.8]];
const eso426Open = [[0.679, 10.84, 0.95], [0.646, 11.46, 0.77], [0.634, 11.93, 0.87], [0.016, 13.0, 0.78], [0.281, 12.73, 0.68],
  [0.689, 12.98, 0.72], [0.679, 13.22, 0.87], [0.676, 13.35, 0.87], [0.584, 13.47, 0.73], [0.632, 13.46, 0.72],
  [0.35, 13.49, 0.69], [0.217, 14.07, 0.87], [0.454, 14.21, 0.72]];
const eso426Iso = [[0.52, 14.5], [0.464, 14.12], [0.39, 13.82], [0.30, 13.43], [0.266, 12.96], [0.272, 12.53], [0.29, 11.89],
  [0.28, 11.5], [0.35, 11.21], [0.266, 11.36], [0.29, 11.25], [0.30, 11.1], [0.336, 10.85], [0.427, 10.50], [0.519, 10.33],
  [0.592, 10.26], [0.683, 10.29], [0.729, 10.33], [0.765, 10.34], [0.80, 10.15], [0.83, 9.9], [0.87, 9.4], [0.95, 8.7],
  [1.03, 8.0], [1.08, 7.5]];
const eso426Iso2 = [[0.81, 10.0], [0.81, 9.5], [0.85, 9.1], [0.93, 8.4], [0.99, 7.5]];
const eso426Bin = [[0.646, 14.5], [0.537, 13.77], [0.446, 13.26], [0.354, 12.75], [0.30, 12.11], [0.284, 11.47], [0.29, 11.04],
  [0.317, 10.80], [0.345, 10.46], [0.263, 10.63], [0.30, 10.46], [0.372, 10.03], [0.482, 9.65], [0.592, 9.5], [0.683, 9.52],
  [0.738, 9.61], [0.774, 9.59], [0.793, 9.39], [0.82, 9.01], [0.847, 8.45], [0.902, 8.03], [0.966, 7.5]];
const eso426Bin2 = [[0.78, 9.3], [0.80, 8.7], [0.87, 8.0], [0.93, 7.5]];
const eso426Zams = [[0.034, 7.5], [0.062, 8.24], [0.098, 9.09], [0.125, 9.95], [0.131, 10.59], [0.162, 10.80], [0.18, 11.19],
  [0.212, 11.68], [0.248, 12.23], [0.27, 12.7], [0.30, 13.2], [0.339, 13.6], [0.449, 14.03], [0.51, 14.5]];
const eso426Field = [[0.59, 7.83], [0.92, 7.79], [0.28, 9.39], [0.71, 9.49], [0.02, 9.77], [0.97, 10.06], [0.96, 10.11],
  [0.49, 10.14], [0.74, 10.2], [0.15, 10.32], [0.82, 10.33], [0.02, 10.45], [0.74, 10.53], [0.46, 10.91], [0.54, 10.99],
  [0.59, 10.99], [0.77, 10.97], [0.90, 11.07], [0.71, 11.18], [0.63, 11.17], [0.67, 11.21], [0.70, 11.23], [0.63, 11.27],
  [0.55, 11.39], [0.78, 11.40], [0.85, 11.36], [0.42, 11.5], [0.52, 11.55], [0.61, 11.59], [0.92, 11.57], [0.86, 11.59],
  [0.50, 11.68], [0.62, 11.72], [0.39, 11.83], [0.41, 11.85], [0.34, 11.96], [0.57, 11.89], [0.53, 11.98], [0.80, 11.96],
  [0.83, 12.0], [0.21, 12.04], [0.45, 12.04], [0.56, 12.09], [0.70, 12.02], [0.91, 12.19], [0.48, 12.3], [0.83, 12.26],
  [0.36, 12.38], [0.38, 12.45], [0.35, 12.55], [0.52, 12.53], [0.70, 12.49], [0.77, 12.51], [0.81, 12.45], [0.50, 12.73],
  [0.59, 12.62], [0.70, 12.58], [0.82, 12.66], [0.37, 12.7], [0.90, 12.79], [0.87, 12.83], [0.78, 12.92], [0.96, 13.03],
  [0.30, 12.88], [0.45, 12.92], [0.52, 12.88], [0.61, 13.03], [0.65, 13.09], [0.85, 12.98], [0.92, 13.13], [0.35, 13.17],
  [0.44, 13.09], [0.54, 13.26], [0.70, 13.30], [0.76, 13.05], [0.81, 13.35], [1.13, 13.59], [0.21, 13.35], [0.22, 13.38],
  [0.52, 13.60], [0.57, 13.64], [0.71, 13.64], [0.81, 13.69], [0.92, 13.82], [0.59, 13.82], [0.68, 13.77], [0.23, 13.86],
  [0.48, 13.94], [0.61, 13.99], [0.70, 14.03], [0.79, 13.99], [0.83, 14.09], [0.88, 14.07], [0.92, 14.14], [0.96, 14.2],
  [1.19, 14.09], [1.45, 14.09], [1.29, 14.18], [0.24, 14.16], [0.54, 14.24], [0.67, 14.24], [0.79, 14.26], [0.59, 14.03],
  [0.55, 14.16], [0.39, 13.35], [0.29, 13.22], [0.24, 13.09], [0.37, 12.11], [0.30, 12.47]];

// =============================
// Panels
// =============================

const FONT = '"Liberation Sans", Arial, Helvetica, sans-serif';
Chart.defaults.font.family = FONT;
Chart.defaults.color = '#111';

const panels = [
  { plot: [52, 7, 365, 546], x: [-0.5, 1.7], xTicks: [-0.5, 0, 0.5, 1, 1.5], xMinor: 0.1,
    y: [6, 14.5], yTicks: [6, 8, 10, 12, 14], yMinor: 0.5, cb: [0.6, 1.0], stops: cbStopsA,
    members: ngc2180Members, open: ngc2180Open, field: ngc2180Field,
    iso: [ngc2180Iso, ngc2180Iso2], bin: [ngc2180Bin, ngc2180Bin2], zams: ngc2180Zams,
    texts: [['NGC 2180', 0.10, 6.41], ['(m–M)o = 10.1', 0.905, 11.92], ['E(B–V) = 0.17', 0.905, 12.41], ['log (t/yr) = 8.85', 0.905, 12.93]] },
  { plot: [517, 7, 364, 546], x: [-0.6, 2.2], xTicks: [-0.5, 0, 0.5, 1, 1.5, 2], xMinor: 0.1,
    y: [7, 14.5], yTicks: [8, 10, 12, 14], yMinor: 0.5, cb: [0.6, 1.0], stops: cbStopsA,
    members: lynga8Members, open: lynga8Open, field: lynga8Field,
    iso: [lynga8Iso, lynga8Iso2], bin: [lynga8Bin, lynga8Bin2], zams: lynga8Zams,
    texts: [['Lynga 8', 0.605, 7.53], ['(m–M)o = 11.9', -0.498, 8.92], ['E(B–V) = 1.05', -0.498, 9.43], ['log (t/yr) = 8.60', -0.498, 9.92]] },
  { plot: [981, 7, 365, 546], x: [-0.5, 1.7], xTicks: [-0.5, 0, 0.5, 1, 1.5], xMinor: 0.1,
    y: [7.5, 14.5], yTicks: [8, 9, 10, 11, 12, 13, 14], yMinor: 0.1, cb: [0.6, 1.0], stops: cbStopsA,
    members: bica5Members, open: bica5Open, field: bica5Field,
    iso: [bica5Iso, bica5Iso2], bin: [bica5Bin, bica5Bin2], zams: bica5Zams,
    texts: [['Bica 5', 1.098, 8.43], ['(m–M)o = 11.4', 0.898, 11.53], ['E(B–V) = 0.25', 0.898, 11.93], ['log (t/yr) = 8.7', 0.898, 12.33]] },
  { plot: [52, 604, 365, 545], x: [0, 1.1], xTicks: [0, 0.2, 0.4, 0.6, 0.8, 1.0], xMinor: 0.05,
    y: [10, 14.5], yTicks: [10, 11, 12, 13, 14], yMinor: 0.1, cb: [0.6, 1.0], stops: cbStopsA,
    members: ngc7036Members, open: ngc7036Open, field: ngc7036Field,
    iso: [ngc7036Iso], bin: [ngc7036Bin], zams: ngc7036Zams,
    texts: [['NGC 7036', 0.249, 10.45], ['(m–M)o = 10.8', 0.702, 12.55], ['E(B–V) = 0.15', 0.702, 12.85], ['log (t/yr) = 9.35', 0.702, 13.15]] },
  { plot: [517, 604, 364, 545], x: [-0.5, 1.5], xTicks: [-0.5, 0, 0.5, 1, 1.5], xMinor: 0.1,
    y: [4, 14.5], yTicks: [4, 6, 8, 10, 12, 14], yMinor: 0.5, cb: [0.5, 1.0], stops: cbStopsB,
    members: alessi3Members, open: [], field: alessi3Field, square: alessi3Square,
    iso: [alessi3Iso, alessi3Iso2], bin: [alessi3Bin, alessi3Bin2], zams: alessi3Zams,
    texts: [['Alessi 3', -0.449, 7.38], ['(m–M)o = 7.1', 0.802, 7.89], ['E(B–V) = 0.15', 0.802, 8.39], ['log (t/yr) = 8.8', 0.802, 8.90]] },
  { plot: [981, 604, 365, 545], x: [-0.3, 1.7], xTicks: [0, 0.5, 1, 1.5], xMinor: 0.1,
    y: [7.5, 14.5], yTicks: [8, 9, 10, 11, 12, 13, 14], yMinor: 0.1, cb: [0.6, 1.0], stops: cbStopsA,
    members: eso426Members, open: eso426Open, field: eso426Field,
    iso: [eso426Iso, eso426Iso2], bin: [eso426Bin, eso426Bin2], zams: eso426Zams,
    texts: [['ESO 426–26', 1.003, 8.92], ['(m–M)o = 11.5', 0.95, 10.93], ['E(B–V) = 0.5', 0.95, 11.42], ['log (t/yr) = 8.8', 0.95, 11.93]] }
];


// =============================
// Helpers
// =============================

function hexToRgb(h) {
  return [parseInt(h.slice(1, 3), 16), parseInt(h.slice(3, 5), 16), parseInt(h.slice(5, 7), 16)];
}

function cmap(p, stops) {
  if (p <= stops[0][0]) return stops[0][1];
  for (let i = 1; i < stops.length; i++) {
    if (p <= stops[i][0]) {
      const t = (p - stops[i - 1][0]) / (stops[i][0] - stops[i - 1][0]);
      const a = hexToRgb(stops[i - 1][1]);
      const b = hexToRgb(stops[i][1]);
      return 'rgb(' + a.map((v, k) => Math.round(v + (b[k] - v) * t)).join(',') + ')';
    }
  }
  return stops[stops.length - 1][1];
}

function steps(min, max, step) {
  const out = [];
  for (let k = Math.ceil(min / step - 1e-6); k * step <= max + 1e-6; k++) out.push(k * step);
  return out;
}

function fmtX(v) {
  return (v < -1e-9 ? '\u2212' : '') + Math.abs(v).toFixed(1);
}

function pts(list) {
  return list.map(p => ({ x: p[0], y: p[1] }));
}

function lineSet(list, style) {
  const base = { data: pts(list), showLine: true, pointRadius: 0, fill: false, tension: 0 };
  if (style === 'solid') return Object.assign(base, { borderColor: '#111', borderWidth: 1.3, order: 4 });
  if (style === 'dot') return Object.assign(base, { borderColor: '#555', borderWidth: 1, borderDash: [1, 2], order: 5 });
  return Object.assign(base, { borderColor: '#222', borderWidth: 1, borderDash: [5, 2, 1, 2], order: 5 });
}

function makeCanvas(left, top, w, h) {
  const c = document.createElement('canvas');
  c.width = w;
  c.height = h;
  c.style.left = left + 'px';
  c.style.top = top + 'px';
  c.style.width = w + 'px';
  c.style.height = h + 'px';
  document.body.appendChild(c);
  return c;
}

// frame, inward ticks and labels for a plot panel
function framePlugin(cfg) {
  return {
    id: 'frame',
    afterDatasetsDraw(chart) {
      const { ctx, chartArea: a, scales: { x, y } } = chart;
      ctx.save();
      ctx.strokeStyle = '#111';
      ctx.lineWidth = 1;
      ctx.beginPath();
      const tick = (vals, len) => {
        vals.forEach(v => {
          const px = Math.round(x.getPixelForValue(v)) + 0.5;
          ctx.moveTo(px, a.bottom); ctx.lineTo(px, a.bottom - len);
          ctx.moveTo(px, a.top); ctx.lineTo(px, a.top + len);
        });
      };
      const tickY = (vals, len) => {
        vals.forEach(v => {
          const py = Math.round(y.getPixelForValue(v)) + 0.5;
          ctx.moveTo(a.left, py); ctx.lineTo(a.left + len, py);
          ctx.moveTo(a.right, py); ctx.lineTo(a.right - len, py);
        });
      };
      tick(steps(cfg.x[0], cfg.x[1], cfg.xMinor), 4.5);
      tick(cfg.xTicks, 9);
      tickY(steps(cfg.y[0], cfg.y[1], cfg.yMinor), 4.5);
      tickY(cfg.yTicks, 9);
      ctx.stroke();
      ctx.lineWidth = 1.3;
      ctx.strokeRect(a.left, a.top, a.width, a.height);

      ctx.fillStyle = '#111';
      ctx.font = '17px ' + FONT;
      ctx.textAlign = 'left';
      ctx.textBaseline = 'middle';
      cfg.texts.forEach(t => ctx.fillText(t[0], x.getPixelForValue(t[1]), y.getPixelForValue(t[2])));
      ctx.restore();
    }
  };
}

// outline, ticks and labels of a colour bar (labels kept inside the bar's height)
const cbFrame = {
  id: 'cbFrame',
  afterDatasetsDraw(chart) {
    const { ctx, chartArea: a, scales: { y } } = chart;
    ctx.save();
    ctx.strokeStyle = '#111';
    ctx.lineWidth = 1;
    ctx.beginPath();
    steps(y.min, y.max, 0.05).forEach(v => {
      const py = Math.round(y.getPixelForValue(v)) + 0.5;
      ctx.moveTo(a.right, py); ctx.lineTo(a.right - 3.5, py);
    });
    ctx.stroke();
    ctx.strokeRect(a.left + 0.5, a.top, a.width - 0.5, a.height);

    ctx.fillStyle = '#111';
    ctx.font = '14px ' + FONT;
    ctx.textAlign = 'left';
    ctx.textBaseline = 'middle';
    steps(y.min, y.max, 0.1).forEach(v => {
      const py = Math.min(Math.max(y.getPixelForValue(v), a.top + 5), a.bottom - 5);
      ctx.fillText(v.toFixed(1), a.right + 4, py);
    });
    ctx.restore();
  }
};


// =============================
// Build each panel
// =============================

function buildPanel(cfg) {
  const [L, T, W, H] = cfg.plot;
  const tickFont = { size: 14, family: FONT };

  const datasets = [
    { data: pts(cfg.field), pointRadius: 0.9, pointBackgroundColor: '#4a0c0c', pointBorderWidth: 0, order: 6 },
    lineSet(cfg.zams, 'dashdot')
  ];
  cfg.bin.forEach(b => datasets.push(lineSet(b, 'dot')));
  cfg.iso.forEach(s => datasets.push(lineSet(s, 'solid')));
  datasets.push({
    data: pts(cfg.open), pointRadius: 5, pointBackgroundColor: 'rgba(0,0,0,0)',
    pointBorderColor: cfg.open.map(m => cmap(m[2], cfg.stops)), pointBorderWidth: 1.3, order: 3
  });
  datasets.push({
    data: pts(cfg.members), pointRadius: 8.5, pointBackgroundColor: 'rgba(0,0,0,0)',
    pointBorderColor: '#2b1111', pointBorderWidth: 1.1, order: 2
  });
  datasets.push({
    data: pts(cfg.members), pointRadius: 5.5, pointBorderWidth: 0,
    pointBackgroundColor: cfg.members.map(m => cmap(m[2], cfg.stops)), order: 1
  });
  if (cfg.square) {
    datasets.push({ data: pts(cfg.square), pointStyle: 'rect', pointRadius: 6, pointBorderWidth: 0,
      pointBackgroundColor: '#1a0202', order: 0 });
  }

  const cv = makeCanvas(L - 55, T - 20, W + 75, H + 65);
  new Chart(cv, {
    type: 'scatter',
    data: { datasets },
    options: {
      responsive: false,
      animation: false,
      events: [],
      layout: { padding: { left: 0, top: 20, right: 20, bottom: 5 } },
      plugins: { legend: { display: false }, tooltip: { enabled: false } },
      scales: {
        x: {
          type: 'linear', position: 'bottom', min: cfg.x[0], max: cfg.x[1],
          grid: { display: false, drawTicks: false }, border: { display: false },
          afterBuildTicks: s => { s.ticks = cfg.xTicks.map(v => ({ value: v })); },
          afterFit: s => { s.height = 40; },
          ticks: { callback: v => fmtX(v), font: tickFont, color: '#111', padding: 5, maxRotation: 0, autoSkip: false },
          title: { display: true, text: '(J–Ks)', font: tickFont, color: '#111', padding: { top: 0, bottom: 1 } }
        },
        y: {
          type: 'linear', position: 'left', reverse: true, min: cfg.y[0], max: cfg.y[1],
          grid: { display: false, drawTicks: false }, border: { display: false },
          afterBuildTicks: s => { s.ticks = cfg.yTicks.map(v => ({ value: v })); },
          afterFit: s => { s.width = 55; },
          ticks: { callback: v => String(v), font: tickFont, color: '#111', padding: 6, autoSkip: false },
          title: { display: true, text: 'Ks', font: tickFont, color: '#111', padding: { top: 9.5, bottom: 0 } }
        }
      }
    },
    plugins: [framePlugin(cfg)]
  });

  // colour bar
  const cb = makeCanvas(L + W + 1, T - 20, 52, H + 65);
  new Chart(cb, {
    type: 'bar',
    data: {
      labels: [''],
      datasets: [{
        data: [[cfg.cb[0], cfg.cb[1]]],
        barPercentage: 1, categoryPercentage: 1, borderWidth: 0, inflateAmount: 0,
        backgroundColor: c => {
          const ch = c.chart;
          if (!ch.chartArea) return 'rgba(0,0,0,0)';
          const ys = ch.scales.y;
          const g = ch.ctx.createLinearGradient(0, ys.getPixelForValue(ys.min), 0, ys.getPixelForValue(ys.max));
          cfg.stops.forEach(s => g.addColorStop((s[0] - ys.min) / (ys.max - ys.min), s[1]));
          return g;
        }
      }]
    },
    options: {
      responsive: false,
      animation: false,
      events: [],
      layout: { padding: { left: 0, top: 20, right: 0, bottom: 45 } },
      plugins: { legend: { display: false }, tooltip: { enabled: false } },
      scales: {
        x: { display: false },
        y: {
          position: 'right', min: cfg.cb[0], max: cfg.cb[1],
          grid: { display: false, drawTicks: false }, border: { display: false },
          afterFit: s => { s.width = 34; },
          ticks: { display: false }
        }
      }
    },
    plugins: [cbFrame]
  });
}

panels.forEach(buildPanel);
</script>
</body>
</html>
